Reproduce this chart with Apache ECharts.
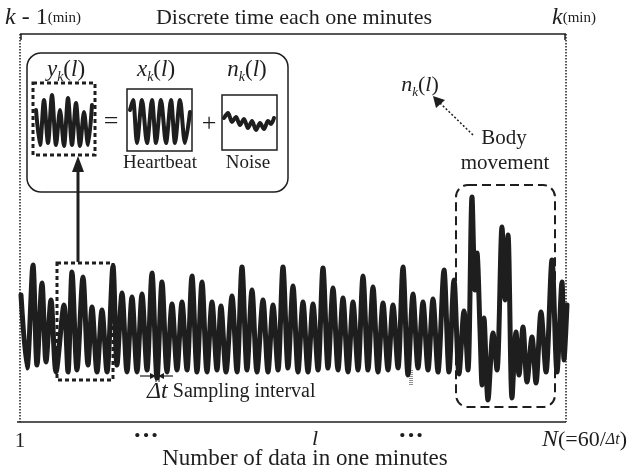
<!DOCTYPE html>
<html><head><meta charset="utf-8">
<script src="https://cdn.jsdelivr.net/npm/echarts@6/dist/echarts.min.js"></script>
<style>html,body{margin:0;padding:0;background:#fff}#c{width:643px;height:470px}</style>
</head><body><div id="c"></div>
<script>
// ---- main signal y_k(l): sample index & amplitude ----
const mainIdx = [0,6,12,16,21,25,30,35,43,47,51,56,62,67,71,76,81,86,92,96,101,106,111,116,121,126,131,136,141,146,151,156,161,166,171,176,181,186,191,196,200,205,211,216,221,226,231,236,242,247,252,257,262,267,272,277,282,287,292,297,302,307,312,317,322,327,332,337,342,347,352,357,362,367,372,377,382,387,392,397,402,407,412,417,423,428,433,438,443,447,451,454,456,459,461,463,467,472,476,481,484,487,491,495,498,502,506,511,515,520,525,531,536,541,543,546];
const mainAmp = [115,42,145,45,127,48,110,38,105,38,138,40,133,45,103,38,100,38,144,45,117,38,113,38,116,40,137,32,128,38,106,40,108,40,134,38,128,38,108,40,104,38,114,38,143,40,120,38,110,38,105,40,143,42,124,38,108,38,106,40,142,42,122,40,112,38,108,40,134,40,123,38,107,40,105,42,143,35,116,42,108,40,111,38,140,38,130,36,99,40,213,120,157,80,25,92,10,77,40,183,110,175,12,78,35,83,28,73,27,98,38,150,38,128,50,105];
// ---- inset: observed y_k(l) ----
const obsIdx = [1,5,9,13,17,21,25,29,33,37,41,45,49,53,57];
const obsAmp = [40,5,50,7,55,5,40,4,52,5,47,4,38,5,45];
// ---- inset: heartbeat x_k(l) ----
const hbIdx = [1,4,8,13,18,23,27,32,37,42,46,51,56,61];
const hbAmp = [40,50,7,50,7,50,7,50,7,50,7,50,7,38];
// ---- inset: noise n_k(l) ----
const nzIdx = [2,6,10,14,18,22,26,30,34,38,42,46,49,52];
const nzAmp = [32,37,28,33,25,31,22,29,20,27,21,29,26,32];

const INK = '#1e1e1e';
const SERIF = 'Liberation Serif, Times New Roman, serif';
const chart = echarts.init(document.getElementById('c'), null, {renderer:'canvas'});

function ax(i, min, max){return {gridIndex:i, type:'value', min:min, max:max, show:false};}
function pairs(a,b){return a.map((v,k)=>[v,b[k]]);}
function lineS(i, d, w){return {type:'line', xAxisIndex:i, yAxisIndex:i, data:d, symbol:'none', smooth:0.3,
  lineStyle:{color:INK, width:w, join:'round', cap:'round'}, silent:true, animation:false};}

const T = (x,y,text,opt) => Object.assign({type:'text', x:x, y:y, style:Object.assign({text:text, font:'21px '+SERIF, fill:INK, align:'center', verticalAlign:'middle'}, opt||{})});
function sym(x,y,main,sub,size){ // like y_k(l)
  size = size||23;
  return {type:'text', x:x, y:y, style:{text:'{m|'+main+'}{s|'+sub+'}{n|(}{m|l}{n|)}', align:'center', verticalAlign:'middle', fill:INK,
    rich:{m:{fontFamily:SERIF,fontStyle:'italic',fontSize:size,lineHeight:size+6,verticalAlign:'middle',fill:INK},
          s:{fontFamily:SERIF,fontStyle:'italic',fontSize:Math.round(size*0.6),lineHeight:Math.round(size*0.6),verticalAlign:'bottom',fill:INK},
          n:{fontFamily:SERIF,fontSize:size,lineHeight:size+6,verticalAlign:'middle',fill:INK}}}};
}
const L = (x1,y1,x2,y2,w,dash) => ({type:'line', shape:{x1,y1,x2,y2}, style:{stroke:INK, lineWidth:w||1.5, lineDash:dash||null}});
const R = (x,y,w,h,lw,dash,r) => ({type:'rect', shape:{x,y,width:w,height:h,r:r||0}, style:{stroke:INK, fill:null, lineWidth:lw, lineDash:dash||null}});
const P = (pts) => ({type:'polygon', shape:{points:pts}, style:{fill:INK}});

const graphics = [
  // frame
  L(20,34,566,34,1.5), L(20,34,20,422,1.5,[1.5,1.5]), L(566,34,566,422,1.5,[1.5,1.5]), L(17,422,566,422,1.5),
  L(21,34,21,40,1.5), L(565,34,565,40,1.5),
  // top labels
  {type:'text', x:5, y:18, style:{text:'{i|k}{r| - 1}{s|(min)}', verticalAlign:'middle', fill:INK,
    rich:{i:{fontFamily:SERIF,fontStyle:'italic',fontSize:24,fill:INK},r:{fontFamily:SERIF,fontSize:24,fill:INK},s:{fontFamily:SERIF,fontSize:15,fill:INK}}}},
  T(294,18,'Discrete time each one minutes',{font:'22px '+SERIF}),
  {type:'text', x:552, y:18, style:{text:'{i|k}{s|(min)}', verticalAlign:'middle', fill:INK,
    rich:{i:{fontFamily:SERIF,fontStyle:'italic',fontSize:24,fill:INK},s:{fontFamily:SERIF,fontSize:15,fill:INK}}}},
  // inset
  R(27,53,261,139,1.5,null,14),
  R(33,83,62,72,3,[4,3]),
  R(127,89,65,62,1.5), R(222,95,55,55,1.5),
  sym(66,70,'y','k'), sym(156,70,'x','k'), sym(247,70,'n','k'),
  T(111,122,'=',{font:'26px '+SERIF}), T(209,124,'+',{font:'26px '+SERIF}),
  T(160,163,'Heartbeat',{font:'19px '+SERIF}), T(248,163,'Noise',{font:'19px '+SERIF}),
  // up arrow
  L(78,262,78,170,3), P([[78,156],[72,172],[84,172]]),
  // segment box on signal
  R(57,263,56,117,3,[4,3]),
  // body movement
  R(456,185,99,222,2,[9,5],12),
  sym(420,85,'n','k',22),
  L(473,135,440,103,1.5,[2,2]), P([[433,96],[436,108],[445,100]]),
  T(504,138,'Body',{font:'21px '+SERIF}), T(505,163,'movement',{font:'21px '+SERIF}),
  // sampling interval marker
  L(140,376,153,376,1.2), P([[156,376],[150,373],[150,379]]),
  L(173,376,161,376,1.2), P([[158,376],[164,373],[164,379]]),
  L(156,370,156,382,1), L(159,370,159,382,1),
  {type:'text', x:147, y:392, style:{text:'{i|Δt}{r| Sampling interval}', verticalAlign:'middle', fill:INK,
    rich:{i:{fontFamily:SERIF,fontStyle:'italic',fontSize:24,fill:INK},r:{fontFamily:SERIF,fontSize:20,fill:INK}}}},
  L(410,370,410,385,1,[1,1]), L(412,370,412,385,1,[1,1]),
  // bottom labels
  T(20,441,'1',{font:'21px '+SERIF}),
  T(146,436,'···',{font:'bold 26px '+SERIF}),
  T(315,439,'l',{font:'italic 22px '+SERIF}),
  T(411,436,'···',{font:'bold 26px '+SERIF}),
  {type:'text', x:542, y:440, style:{text:'{i|N}{r|(=60/}{s|Δt}{r|)}', verticalAlign:'middle', fill:INK,
    rich:{i:{fontFamily:SERIF,fontStyle:'italic',fontSize:24,fill:INK},r:{fontFamily:SERIF,fontSize:22,fill:INK},s:{fontFamily:SERIF,fontStyle:'italic',fontSize:16,fill:INK}}}},
  T(305,459,'Number of data in one minutes',{font:'23px '+SERIF})
];

chart.setOption({
  animation:false,
  grid:[
    {left:21, top:190, width:546, height:220},
    {left:35, top:88, width:60, height:62},
    {left:129, top:92, width:62, height:58},
    {left:222, top:95, width:55, height:55}
  ],
  xAxis:[ax(0,0,546), ax(1,0,60), ax(2,0,62), ax(3,0,55)],
  yAxis:[ax(0,0,220), ax(1,0,62), ax(2,0,58), ax(3,0,55)],
  series:[
    lineS(0, pairs(mainIdx, mainAmp), 5),
    lineS(1, pairs(obsIdx, obsAmp), 4),
    lineS(2, pairs(hbIdx, hbAmp), 4),
    lineS(3, pairs(nzIdx, nzAmp), 4)
  ],
  graphic:graphics
});
</script></body></html>
